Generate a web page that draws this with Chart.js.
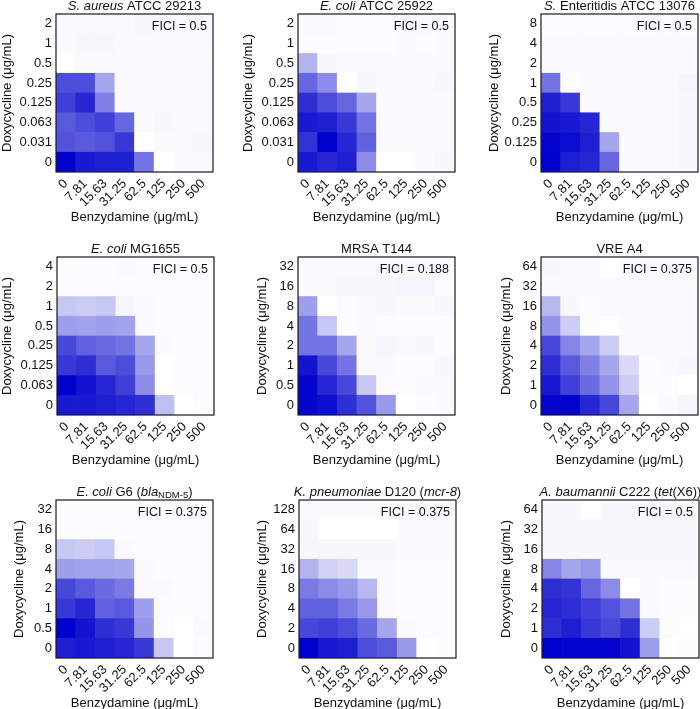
<!DOCTYPE html>
<html>
<head>
<meta charset="utf-8">
<script src="https://cdn.jsdelivr.net/npm/chart.js@4.4.0/dist/chart.umd.min.js"></script>
<style>
body { margin: 0; background: #fff; }
#wrap { position: relative; width: 700px; height: 709px; overflow: hidden; background: #fff; }
#wrap canvas { position: absolute; }
</style>
</head>
<body>
<div id="wrap"></div>
<script>
// x categories shared by every panel
const benzLabels = ['0', '7.81', '15.63', '31.25', '62.5', '125', '250', '500']

// doxycycline rows (bottom -> top) and growth (0 = no growth, 1 = full), one row per dose
const saureusDoxy = ['0', '0.031', '0.063', '0.125', '0.25', '0.5', '1', '2']
const saureusGrowth = [
  [1.0, 0.9, 0.88, 0.88, 0.55, 0, 0.02, 0.02],
  [0.68, 0.65, 0.68, 0.78, 0, 0.02, 0.02, 0.03],
  [0.65, 0.7, 0.75, 0.6, 0.02, 0.03, 0.02, 0.02],
  [0.75, 0.85, 0.5, 0.02, 0.02, 0.02, 0.02, 0.02],
  [0.7, 0.7, 0.35, 0.02, 0.02, 0.02, 0.02, 0.02],
  [0, 0.02, 0.02, 0.02, 0.02, 0.02, 0.02, 0.02],
  [0.02, 0.03, 0.03, 0.02, 0.02, 0.02, 0.02, 0.02],
  [0.02, 0.02, 0.02, 0.02, 0.03, 0.02, 0.02, 0.02]
]

const ecoliAtccDoxy = ['0', '0.031', '0.063', '0.125', '0.25', '0.5', '1', '2']
const ecoliAtccGrowth = [
  [0.9, 0.85, 0.88, 0.45, 0, 0, 0.02, 0.03],
  [0.8, 1.0, 0.85, 0.62, 0.02, 0.02, 0.02, 0.02],
  [0.9, 0.88, 0.78, 0.55, 0.02, 0.02, 0.02, 0.02],
  [0.82, 0.7, 0.6, 0.35, 0.02, 0.02, 0.02, 0.02],
  [0.6, 0.45, 0, 0.03, 0.02, 0.02, 0.02, 0.03],
  [0.3, 0.03, 0.02, 0.02, 0.02, 0.02, 0.02, 0.02],
  [0.01, 0.01, 0.01, 0.01, 0.01, 0.02, 0.01, 0.02],
  [0.02, 0.02, 0.01, 0.01, 0.01, 0.02, 0.02, 0.02]
]

const entDoxy = ['0', '0.125', '0.25', '0.5', '1', '2', '4', '8']
const entGrowth = [
  [1.0, 0.88, 0.85, 0.6, 0.02, 0.02, 0.02, 0.03],
  [0.98, 0.95, 0.88, 0.35, 0.02, 0.02, 0.02, 0.03],
  [0.92, 0.9, 0.85, 0.02, 0.02, 0.02, 0.02, 0.03],
  [0.88, 0.78, 0.02, 0.02, 0.02, 0.02, 0.02, 0.03],
  [0.55, 0.01, 0.02, 0.02, 0.02, 0.02, 0.02, 0.04],
  [0.02, 0.02, 0.02, 0.02, 0.02, 0.02, 0.02, 0.02],
  [0.02, 0.02, 0.02, 0.02, 0.02, 0.02, 0.02, 0.02],
  [0.01, 0.01, 0.01, 0.01, 0.01, 0.01, 0.01, 0.01]
]

const mg1655Doxy = ['0', '0.063', '0.125', '0.25', '0.5', '1', '2', '4']
const mg1655Growth = [
  [0.9, 0.9, 0.88, 0.85, 0.82, 0.25, 0, 0.01],
  [1.0, 0.92, 0.85, 0.75, 0.45, 0, 0.01, 0.01],
  [0.78, 0.82, 0.65, 0.7, 0.4, 0, 0.01, 0.01],
  [0.72, 0.62, 0.58, 0.55, 0.35, 0.02, 0.01, 0.01],
  [0.38, 0.36, 0.38, 0.36, 0.02, 0.01, 0.01, 0.01],
  [0.22, 0.2, 0.22, 0.04, 0.02, 0.01, 0.01, 0.01],
  [0.01, 0.01, 0.01, 0.01, 0.01, 0.01, 0.01, 0.01],
  [0.01, 0.01, 0.01, 0.02, 0.01, 0.01, 0.01, 0.01]
]

const mrsaDoxy = ['0', '0.5', '1', '2', '4', '8', '16', '32']
const mrsaGrowth = [
  [0.98, 0.95, 0.82, 0.68, 0.4, 0, 0.01, 0.02],
  [0.98, 0.85, 0.72, 0.22, 0.01, 0.01, 0.02, 0.02],
  [0.92, 0.72, 0.55, 0.02, 0.02, 0.01, 0.01, 0.03],
  [0.55, 0.55, 0.35, 0.02, 0.04, 0.02, 0.03, 0.01],
  [0.55, 0.22, 0.01, 0.02, 0.01, 0.01, 0.01, 0.01],
  [0.38, 0, 0.01, 0.02, 0.03, 0.02, 0.02, 0.03],
  [0.02, 0.02, 0.03, 0.03, 0.03, 0.04, 0.04, 0.01],
  [0.02, 0.02, 0.02, 0.02, 0.02, 0.02, 0.02, 0.02]
]

const vreDoxy = ['0', '1', '2', '4', '8', '16', '32', '64']
const vreGrowth = [
  [0.98, 1.0, 0.85, 0.72, 0.35, 0, 0.02, 0.04],
  [0.9, 0.75, 0.58, 0.42, 0.2, 0.01, 0.01, 0],
  [0.82, 0.65, 0.5, 0.35, 0.15, 0.01, 0.02, 0.03],
  [0.72, 0.48, 0.35, 0.2, 0.02, 0.02, 0.02, 0.02],
  [0.42, 0.2, 0.01, 0, 0.02, 0.02, 0.02, 0.02],
  [0.28, 0.03, 0.01, 0.02, 0.02, 0.02, 0.02, 0.02],
  [0.02, 0.02, 0.02, 0.02, 0.02, 0.02, 0.02, 0.02],
  [0.03, 0.02, 0.02, 0, 0.02, 0.02, 0.02, 0.02]
]

const g6Doxy = ['0', '0.5', '1', '2', '4', '8', '16', '32']
const g6Growth = [
  [0.88, 0.9, 0.88, 0.85, 0.78, 0.22, 0, 0.01],
  [1.0, 0.92, 0.82, 0.78, 0.42, 0.01, 0, 0.02],
  [0.78, 0.85, 0.62, 0.65, 0.38, 0.01, 0.01, 0.01],
  [0.72, 0.65, 0.58, 0.52, 0.02, 0.02, 0.01, 0.01],
  [0.38, 0.36, 0.36, 0.35, 0.02, 0.01, 0.01, 0.01],
  [0.22, 0.2, 0.22, 0.02, 0.01, 0.01, 0.01, 0.01],
  [0.01, 0.01, 0.01, 0.01, 0.01, 0.01, 0.01, 0.01],
  [0.01, 0.01, 0.01, 0.01, 0.01, 0.01, 0.01, 0.01]
]

const kpnDoxy = ['0', '2', '4', '8', '16', '32', '64', '128']
const kpnGrowth = [
  [1.0, 0.9, 0.88, 0.7, 0.65, 0.4, 0, 0.01],
  [0.72, 0.75, 0.7, 0.58, 0.35, 0.02, 0.01, 0.01],
  [0.62, 0.62, 0.52, 0.4, 0.02, 0.01, 0.01, 0.01],
  [0.52, 0.45, 0.4, 0.28, 0.02, 0.01, 0.01, 0.01],
  [0.3, 0.18, 0.15, 0.02, 0.02, 0.01, 0.01, 0.01],
  [0.03, 0.03, 0.03, 0.03, 0.03, 0.02, 0.02, 0.02],
  [0.03, 0, 0, 0, 0, 0.02, 0.02, 0.02],
  [0.02, 0.02, 0.02, 0.02, 0.02, 0.02, 0.02, 0.02]
]

const abaDoxy = ['0', '1', '2', '4', '8', '16', '32', '64']
const abaGrowth = [
  [1.0, 0.98, 0.98, 0.98, 0.92, 0.38, 0, 0.01],
  [0.82, 0.88, 0.78, 0.72, 0.82, 0.2, 0.01, 0],
  [0.85, 0.82, 0.75, 0.68, 0.55, 0.02, 0.01, 0.01],
  [0.82, 0.8, 0.6, 0.45, 0, 0.02, 0.01, 0.01],
  [0.48, 0.35, 0.4, 0.02, 0.02, 0.02, 0.02, 0.02],
  [0.03, 0.03, 0.03, 0.03, 0.03, 0.03, 0.03, 0.03],
  [0.03, 0.03, 0.03, 0.03, 0.03, 0.03, 0.03, 0.03],
  [0.03, 0.03, 0, 0.03, 0.03, 0.03, 0.03, 0.03]
]

const ficiValues = ['0.5', '0.5', '0.5', '0.5', '0.188', '0.375', '0.375', '0.375', '0.5']

const family = '"Liberation Sans", Arial, sans-serif'
const wrap = document.getElementById('wrap')

// white -> deep blue
function shade(v) {
  const r = Math.round(255 * (1 - v))
  const b = Math.round(255 - v * (255 - 204))
  return `rgb(${r},${r},${b})`
}

// frame, FICI label and the mixed-style panel title
const panelDeco = {
  id: 'panelDeco',
  afterDraw(chart, args, opts) {
    const ctx = chart.ctx
    const a = chart.chartArea
    ctx.save()
    ctx.strokeStyle = '#1a1a1a'
    ctx.lineWidth = 1.2
    ctx.strokeRect(a.left, a.top, a.right - a.left, a.bottom - a.top)

    ctx.fillStyle = '#111'
    ctx.font = '12.5px ' + family
    ctx.textAlign = 'right'
    ctx.textBaseline = 'middle'
    ctx.fillText('FICI = ' + opts.fici, a.right - 6, a.top + 13)

    const fontOf = r => (r.i ? 'italic ' : '') + (r.sub ? 9.5 : 13) + 'px ' + family
    let total = 0
    opts.title.forEach(r => { ctx.font = fontOf(r); total += ctx.measureText(r.t).width })
    let x = (a.left + a.right) / 2 - total / 2
    const y = a.top - 8
    ctx.textAlign = 'left'
    opts.title.forEach(r => {
      ctx.font = fontOf(r)
      ctx.fillText(r.t, x, y + (r.sub ? 3 : 0))
      x += ctx.measureText(r.t).width
    })
    ctx.restore()
  }
}

const panels = [
  { left: 56, top: 14, yw: 56, doxy: saureusDoxy, growth: saureusGrowth,
    title: [{ t: 'S. aureus', i: 1 }, { t: ' ATCC 29213' }] },
  { left: 298, top: 14, yw: 57, doxy: ecoliAtccDoxy, growth: ecoliAtccGrowth,
    title: [{ t: 'E. coli', i: 1 }, { t: ' ATCC 25922' }] },
  { left: 541, top: 14, yw: 54, doxy: entDoxy, growth: entGrowth,
    title: [{ t: 'S.', i: 1 }, { t: ' Enteritidis ATCC 13076' }] },
  { left: 57, top: 257, yw: 57, doxy: mg1655Doxy, growth: mg1655Growth,
    title: [{ t: 'E. coli', i: 1 }, { t: ' MG1655' }] },
  { left: 298, top: 257, yw: 43, doxy: mrsaDoxy, growth: mrsaGrowth,
    title: [{ t: 'MRSA T144' }] },
  { left: 541, top: 257, yw: 42, doxy: vreDoxy, growth: vreGrowth,
    title: [{ t: 'VRE A4' }] },
  { left: 56, top: 500, yw: 44, doxy: g6Doxy, growth: g6Growth,
    title: [{ t: 'E. coli', i: 1 }, { t: ' G6 (' }, { t: 'bla', i: 1 }, { t: 'NDM-5', sub: 1 }, { t: ')' }] },
  { left: 299, top: 500, yw: 44, doxy: kpnDoxy, growth: kpnGrowth,
    title: [{ t: 'K. pneumoniae', i: 1 }, { t: ' D120 (' }, { t: 'mcr-8', i: 1 }, { t: ')' }] },
  { left: 542, top: 500, yw: 43, doxy: abaDoxy, growth: abaGrowth,
    title: [{ t: 'A. baumannii', i: 1 }, { t: ' C222 (' }, { t: 'tet', i: 1 }, { t: '(X6))' }] }
]

panels.forEach((p, n) => {
  const W = p.yw + 157 + 16
  const H = 14 + 158 + 53 + 4
  const cv = document.createElement('canvas')
  cv.width = W
  cv.height = H
  cv.style.width = W + 'px'
  cv.style.height = H + 'px'
  cv.style.left = (p.left - p.yw) + 'px'
  cv.style.top = (p.top - 14) + 'px'
  wrap.appendChild(cv)

  const datasets = p.growth.map((row, r) => ({
    label: p.doxy[r],
    data: row.map(() => 1),
    backgroundColor: row.map(shade),
    borderWidth: 0,
    categoryPercentage: 1,
    barPercentage: 1
  }))

  new Chart(cv, {
    type: 'bar',
    data: { labels: benzLabels, datasets },
    options: {
      responsive: false,
      animation: false,
      layout: { padding: { top: 14, right: 16, left: 0, bottom: 4 } },
      plugins: {
        legend: { display: false },
        tooltip: { enabled: false },
        panelDeco: { title: p.title, fici: ficiValues[n] }
      },
      scales: {
        x: {
          stacked: true,
          grid: { display: false, drawTicks: false },
          border: { display: false },
          ticks: { color: '#111', font: { size: 13, family }, minRotation: 45, maxRotation: 45, padding: 4, autoSkip: false },
          title: { display: true, text: 'Benzydamine (μg/mL)', color: '#111', font: { size: 13, family }, padding: 0 },
          afterFit: s => { s.height = 53 }
        },
        y: {
          stacked: true,
          min: 0,
          max: 8,
          grid: { display: false, drawTicks: false },
          border: { display: false },
          afterBuildTicks: s => { s.ticks = p.doxy.map((_, i) => ({ value: i + 0.5 })) },
          ticks: { color: '#111', font: { size: 13, family }, padding: 4, autoSkip: false,
                   callback: v => p.doxy[Math.floor(v)] },
          title: { display: true, text: 'Doxycycline (μg/mL)', color: '#111', font: { size: 13, family }, padding: 0 },
          afterFit: s => { s.width = p.yw }
        }
      }
    },
    plugins: [panelDeco]
  })
})
</script>
</body>
</html>
